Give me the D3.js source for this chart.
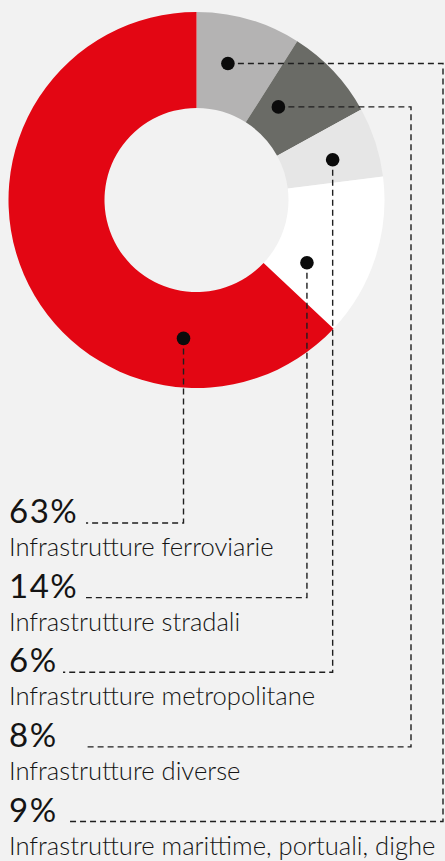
<!DOCTYPE html>
<html>
<head>
<meta charset="utf-8">
<script src="https://cdn.jsdelivr.net/npm/d3@7"></script>
<style>
  html, body { margin: 0; padding: 0; background: #f2f2f2; }
  svg { display: block; }
</style>
</head>
<body>
<svg id="chart" width="445" height="861"></svg>
<script>
// Slices, clockwise from 12 o'clock
const categories = [
  "Infrastrutture marittime, portuali, dighe",
  "Infrastrutture diverse",
  "Infrastrutture metropolitane",
  "Infrastrutture stradali",
  "Infrastrutture ferroviarie"
];
const shares = [9, 8, 6, 14, 63];
const colors = ["#b4b3b3", "#6a6b66", "#e6e6e6", "#ffffff", "#e30613"];

// Legend rows, top to bottom (indices into the slices above)
const legendOrder = [4, 3, 2, 1, 0];

// Where each slice's marker dot sits: fraction across the slice's angle, and radius
const dotAngleFrac = [0.40, 0.31, 0.57, 0.73, 0.23];
const dotRadius = [140, 124, 142, 127, 139];
// Right-hand routing column for leaders that cannot drop straight down (null = drop from dot)
const routeX = [443, 411, null, null, null];
// Start x of the dashed leg next to each legend row (legend order)
const rowLineStart = [86, 86, 63, 87, 69];

const W = 445, H = 861;
const cx = 196.5, cy = 200, rOuter = 188, rInner = 92;

const svg = d3.select("#chart");
svg.append("rect").attr("width", W).attr("height", H).attr("fill", "#f2f2f2");

const pie = d3.pie().sort(null).value(d => d)(shares);
const arc = d3.arc().innerRadius(rInner).outerRadius(rOuter);

const g = svg.append("g").attr("transform", `translate(${cx},${cy})`);
g.selectAll("path.slice")
  .data(pie)
  .join("path")
  .attr("class", "slice")
  .attr("d", arc)
  .attr("fill", (d, i) => colors[i]);

// Legend row positions
const rowY = d3.scaleLinear().domain([0, legendOrder.length - 1]).range([523, 821.5]);

function dotPos(i) {
  const p = pie[i];
  const a = p.startAngle + (p.endAngle - p.startAngle) * dotAngleFrac[i];
  return [cx + dotRadius[i] * Math.sin(a), cy - dotRadius[i] * Math.cos(a)];
}

const leaders = svg.append("g")
  .attr("fill", "none")
  .attr("stroke", "#1f1f1f")
  .attr("stroke-width", 1.4)
  .attr("stroke-dasharray", "6,4");

legendOrder.forEach((si, row) => {
  const [dx, dy] = dotPos(si);
  const y = rowY(row);
  const pts = [[dx, dy]];
  if (routeX[si] != null) {
    pts.push([routeX[si], dy]);
    pts.push([routeX[si], y]);
  } else {
    pts.push([dx, y]);
  }
  pts.push([rowLineStart[row], y]);
  leaders.append("path").attr("d", d3.line()(pts));
});

// Marker dots
svg.append("g").selectAll("circle")
  .data(pie)
  .join("circle")
  .attr("cx", (d, i) => dotPos(i)[0])
  .attr("cy", (d, i) => dotPos(i)[1])
  .attr("r", 6.8)
  .attr("fill", "#0b0b0b");

// Legend text
const legend = svg.append("g").attr("fill", "#141414").attr("font-family", "Lato, 'Open Sans', sans-serif");
legendOrder.forEach((si, row) => {
  const y = rowY(row);
  legend.append("text")
    .attr("x", 9)
    .attr("y", y)
    .attr("font-size", 33)
    .attr("letter-spacing", 1.5)
    .text(shares[si] + "%");
  legend.append("text")
    .attr("x", 9)
    .attr("y", y + 33)
    .attr("font-size", 25.6)
    .attr("font-weight", 300)
    .text(categories[si]);
});
</script>
</body>
</html>
